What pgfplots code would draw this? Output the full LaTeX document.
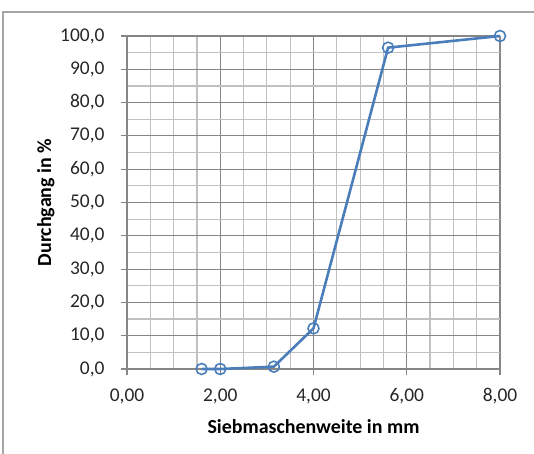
\documentclass[border=0pt]{standalone}
\usepackage{fontspec}
\setmainfont{Carlito}
\usepackage{pgfplots}
\pgfplotsset{compat=1.18}

\definecolor{linieblau}{HTML}{4A7EBB}
\definecolor{hauptgitter}{HTML}{868686}
\definecolor{nebengitter}{HTML}{C0C0C0}

\begin{document}
\begin{tikzpicture}
\begin{axis}[
    at={(0,0)}, anchor=south west,
    scale only axis,
    width=373bp, height=333bp,
    xmin=0, xmax=8, ymin=0, ymax=100,
    xtick={0,2,4,6,8}, minor xtick={0.5,1,...,7.5},
    ytick={0,10,...,100}, minor ytick={5,15,...,95},
    grid=both,
    major grid style={hauptgitter, line width=1.2pt},
    minor grid style={nebengitter, line width=1.2pt},
    axis lines=left,
    axis line style={hauptgitter, line width=1.2pt, -},
    tick style={hauptgitter, line width=1.2pt},
    major tick length=6bp, minor tick length=0pt,
    tick align=outside,
    every tick label/.append style={font=\fontsize{19.5}{23}\selectfont, text=black!85},
    /pgf/number format/assume math mode=true,
    xticklabel style={yshift=-10bp, /pgf/number format/.cd, fixed, fixed zerofill, precision=2, use comma},
    yticklabel style={xshift=-13bp, /pgf/number format/.cd, fixed, fixed zerofill, precision=1, use comma},
    xlabel={\bfseries Siebmaschenweite in mm},
    ylabel={\bfseries Durchgang in \%},
    label style={font=\fontsize{20}{24}\selectfont\bfseries},
    xlabel style={yshift=-8bp},
    ylabel style={yshift=-1bp},
    clip=false,
]
\addplot[linieblau, line width=2.6pt, mark=o, mark size=5.5bp,
         mark options={line width=1.6pt, fill=none}] coordinates {
    (1.60,0.0) (2.00,0.0) (3.15,0.7) (4.00,12.2) (5.60,96.5) (8.00,100.0)
};
\end{axis}
\pgfresetboundingbox
\useasboundingbox (-127bp,-85bp) rectangle (407bp,369bp);
\draw[gray!70, line width=1.5pt] (-124bp,-100bp) -- (-124bp,357bp) -- (420bp,357bp);
\end{tikzpicture}
\end{document}
